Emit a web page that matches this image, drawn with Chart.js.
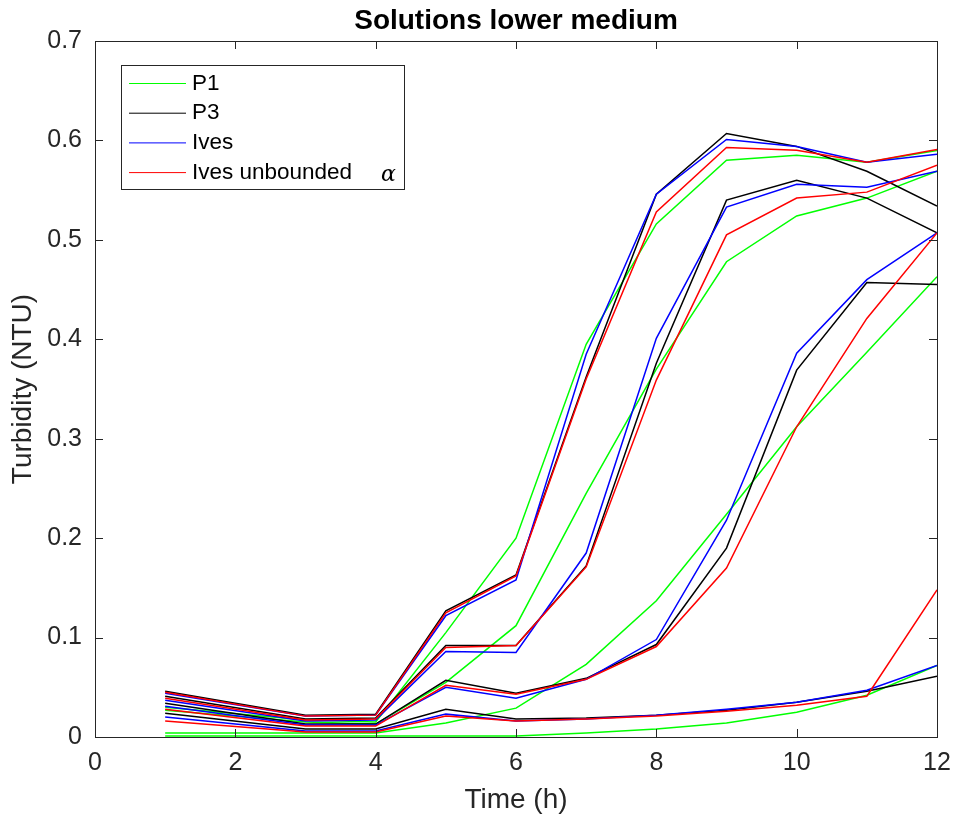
<!DOCTYPE html>
<html>
<head>
<meta charset="utf-8">
<title>Solutions lower medium</title>
<script src="https://cdn.jsdelivr.net/npm/chart.js@4.4.1/dist/chart.umd.min.js"></script>
<style>
    body { margin: 0; background: #fff; }
    #wrap { width: 956px; height: 818px; position: relative; }
</style>
</head>
<body>
<div id="wrap"><canvas id="mainChart"></canvas></div>
<script>
// Sample times (h) - there is no sample at t = 2
const times = [1, 3, 4, 5, 6, 7, 8, 9, 10, 11, 12];

// P1 (green), four runs each
const p1A = [0.030, 0.017, 0.015, 0.105, 0.200, 0.395, 0.516, 0.580, 0.585, 0.578, 0.590];
const p1B = [0.027, 0.015, 0.013, 0.055, 0.112, 0.245, 0.370, 0.478, 0.524, 0.542, 0.569];
const p1C = [0.004, 0.004, 0.004, 0.014, 0.029, 0.073, 0.137, 0.224, 0.312, 0.387, 0.463];
const p1D = [0.001, 0.001, 0.001, 0.001, 0.001, 0.004, 0.008, 0.014, 0.025, 0.042, 0.072];

// P3 (black)
const p3A = [0.046, 0.022, 0.023, 0.127, 0.163, 0.362, 0.546, 0.607, 0.594, 0.569, 0.534];
const p3B = [0.041, 0.018, 0.019, 0.092, 0.092, 0.172, 0.376, 0.540, 0.560, 0.542, 0.507];
const p3C = [0.034, 0.013, 0.013, 0.057, 0.044, 0.059, 0.093, 0.190, 0.369, 0.457, 0.455];
const p3D = [0.024, 0.008, 0.008, 0.028, 0.018, 0.019, 0.022, 0.027, 0.035, 0.046, 0.061];

// Ives (blue)
const ivesA = [0.044, 0.021, 0.022, 0.122, 0.158, 0.385, 0.546, 0.601, 0.594, 0.578, 0.586];
const ivesB = [0.037, 0.016, 0.017, 0.086, 0.085, 0.185, 0.401, 0.533, 0.556, 0.553, 0.569];
const ivesC = [0.031, 0.012, 0.012, 0.050, 0.039, 0.058, 0.098, 0.218, 0.386, 0.460, 0.507];
const ivesD = [0.020, 0.006, 0.006, 0.023, 0.016, 0.018, 0.022, 0.028, 0.035, 0.047, 0.072];

// Ives unbounded (red)
const ivesUA = [0.045, 0.021, 0.022, 0.125, 0.162, 0.360, 0.528, 0.593, 0.590, 0.578, 0.591];
const ivesUB = [0.039, 0.017, 0.018, 0.090, 0.092, 0.171, 0.359, 0.505, 0.542, 0.548, 0.575];
const ivesUC = [0.028, 0.011, 0.011, 0.052, 0.043, 0.058, 0.091, 0.170, 0.312, 0.421, 0.507];
const ivesUD = [0.016, 0.005, 0.005, 0.021, 0.016, 0.018, 0.021, 0.026, 0.032, 0.041, 0.148];

const methods = [
    { name: 'P1', color: 'rgb(0,255,0)', runs: [p1A, p1B, p1C, p1D], order: 3 },
    { name: 'P3', color: 'rgb(0,0,0)', runs: [p3A, p3B, p3C, p3D], order: 2 },
    { name: 'Ives', color: 'rgb(0,0,255)', runs: [ivesA, ivesB, ivesC, ivesD], order: 1 },
    { name: 'Ives unbounded', color: 'rgb(255,0,0)', runs: [ivesUA, ivesUB, ivesUC, ivesUD], order: 0 }
];

const xTicks = [0, 2, 4, 6, 8, 10, 12];
const yTicks = [0, 0.1, 0.2, 0.3, 0.4, 0.5, 0.6, 0.7];

const axisColor = '#262626';
const fontFamily = "'Liberation Sans', Arial, Helvetica, sans-serif";

// Build datasets from the arrays above
function buildDatasets() {
    const sets = [];
    methods.forEach(m => {
        m.runs.forEach(run => {
            sets.push({
                label: m.name,
                data: run.map((v, i) => ({ x: times[i], y: v })),
                borderColor: m.color,
                backgroundColor: m.color,
                borderWidth: 1.5,
                pointRadius: 0,
                tension: 0,
                fill: false,
                order: m.order
            });
        });
    });
    return sets;
}

// Axes box, inward ticks, titles and legend in MATLAB style
const framePlugin = {
    id: 'frame',
    afterDraw(chart) {
        const ctx = chart.ctx;
        const a = chart.chartArea;
        const xs = chart.scales.x;
        const ys = chart.scales.y;
        const tl = 8;

        ctx.save();
        ctx.strokeStyle = axisColor;
        ctx.lineWidth = 1;
        ctx.strokeRect(Math.round(a.left) + 0.5, Math.round(a.top) + 0.5,
            Math.round(a.right - a.left), Math.round(a.bottom - a.top));

        ctx.beginPath();
        xTicks.forEach(t => {
            const px = Math.round(xs.getPixelForValue(t)) + 0.5;
            ctx.moveTo(px, a.bottom); ctx.lineTo(px, a.bottom - tl);
            ctx.moveTo(px, a.top); ctx.lineTo(px, a.top + tl);
        });
        yTicks.forEach(t => {
            const py = Math.round(ys.getPixelForValue(t)) + 0.5;
            ctx.moveTo(a.left, py); ctx.lineTo(a.left + tl, py);
            ctx.moveTo(a.right, py); ctx.lineTo(a.right - tl, py);
        });
        ctx.stroke();

        // Title
        ctx.fillStyle = '#000';
        ctx.textAlign = 'center';
        ctx.textBaseline = 'alphabetic';
        ctx.font = 'bold 28px ' + fontFamily;
        ctx.fillText('Solutions lower medium', (a.left + a.right) / 2, 29);

        // Axis labels
        ctx.fillStyle = axisColor;
        ctx.font = '28px ' + fontFamily;
        ctx.fillText('Time (h)', (a.left + a.right) / 2, 808);
        ctx.save();
        ctx.translate(23, (a.top + a.bottom) / 2);
        ctx.rotate(-Math.PI / 2);
        ctx.textBaseline = 'middle';
        ctx.fillText('Turbidity (NTU)', 0, 0);
        ctx.restore();

        // Legend
        const lx = 121.5, ly = 65.5, lw = 283, lh = 124;
        ctx.fillStyle = '#fff';
        ctx.fillRect(lx, ly, lw, lh);
        ctx.strokeStyle = axisColor;
        ctx.strokeRect(lx, ly, lw, lh);
        ctx.font = '22.5px ' + fontFamily;
        ctx.textAlign = 'left';
        ctx.textBaseline = 'middle';
        methods.forEach((m, i) => {
            const y = 83.5 + i * 29.7;
            ctx.strokeStyle = m.color;
            ctx.lineWidth = 1;
            ctx.beginPath();
            ctx.moveTo(129, y); ctx.lineTo(186, y);
            ctx.stroke();
            ctx.fillStyle = '#000';
            ctx.fillText(m.name, 192, y);
        });
        ctx.font = 'italic 22px "DejaVu Serif", serif';
        ctx.fillText('α', 381, 175);
        ctx.restore();
    }
};

let mainChart;

function initializeChart() {
    Chart.defaults.font.family = fontFamily;
    Chart.defaults.color = axisColor;
    const ctx = document.getElementById('mainChart').getContext('2d');

    mainChart = new Chart(ctx, {
        type: 'line',
        data: { datasets: buildDatasets() },
        options: {
            responsive: true,
            maintainAspectRatio: false,
            animation: false,
            layout: { autoPadding: false, padding: { left: 0, top: 41, right: 19, bottom: 0 } },
            plugins: {
                legend: { display: false },
                title: { display: false },
                tooltip: { enabled: false }
            },
            scales: {
                x: {
                    type: 'linear',
                    min: 0,
                    max: 12,
                    grid: { display: false, drawTicks: false },
                    border: { display: false },
                    ticks: {
                        stepSize: 2,
                        padding: 11,
                        font: { size: 25 },
                        color: axisColor,
                        maxRotation: 0
                    },
                    afterFit: s => {
                        s.height = 81;
                        s.paddingLeft = 0;
                        s.paddingRight = 0;
                    }
                },
                y: {
                    type: 'linear',
                    min: 0,
                    max: 0.7,
                    grid: { display: false, drawTicks: false },
                    border: { display: false },
                    ticks: {
                        stepSize: 0.1,
                        padding: 13,
                        font: { size: 25 },
                        color: axisColor,
                        callback: v => (v === 0 ? '0' : v.toFixed(1))
                    },
                    afterFit: s => {
                        s.width = 95;
                        s.paddingTop = 0;
                        s.paddingBottom = 0;
                    }
                }
            }
        },
        plugins: [framePlugin]
    });
}

document.addEventListener('DOMContentLoaded', initializeChart);
</script>
</body>
</html>
